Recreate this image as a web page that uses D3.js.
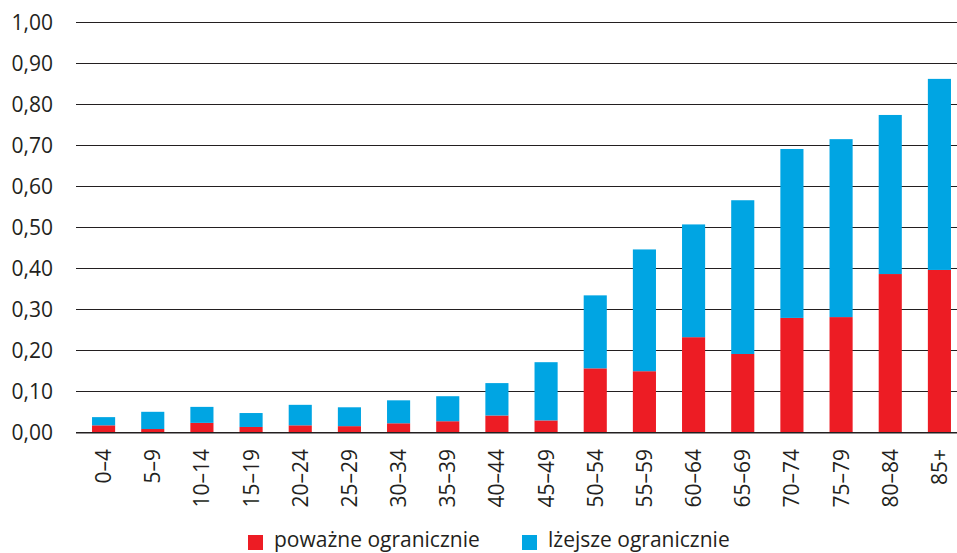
<!DOCTYPE html>
<html>
<head>
<meta charset="utf-8">
<script src="https://cdn.jsdelivr.net/npm/d3@7"></script>
<style>
  html, body { margin: 0; padding: 0; background: #fff; }
  svg { display: block; font-family: "Open Sans", "Noto Sans", sans-serif; }
</style>
</head>
<body>
<svg id="chart" width="957" height="553"></svg>
<script>
// age groups
const categories = ["0–4", "5–9", "10–14", "15–19", "20–24", "25–29", "30–34", "35–39", "40–44",
    "45–49", "50–54", "55–59", "60–64", "65–69", "70–74", "75–79", "80–84", "85+"];

// poważne ograniczenie (red, bottom)
const severe = [0.017, 0.008, 0.023, 0.013, 0.017, 0.015, 0.022, 0.027, 0.041,
    0.029, 0.156, 0.149, 0.232, 0.191, 0.279, 0.281, 0.386, 0.396];

// lżejsze ograniczenie (blue, stacked on top)
const light = [0.020, 0.042, 0.039, 0.034, 0.050, 0.046, 0.056, 0.061, 0.079,
    0.142, 0.178, 0.297, 0.275, 0.375, 0.412, 0.434, 0.388, 0.466];

const yTicks = [0, 0.1, 0.2, 0.3, 0.4, 0.5, 0.6, 0.7, 0.8, 0.9, 1.0];

const seriesNames = ["poważne ogranicznie", "lżejsze ogranicznie"];
const colors = ["#ed1c24", "#00a5e3"];

const svg = d3.select("#chart");

const plotLeft = 76, plotRight = 957;
const fontSize = 21;
const y = d3.scaleLinear().domain([0, 1]).range([432.3, 22.3]);
const x = d3.scaleBand().domain(categories).range([79, 964]).paddingInner(0.53).paddingOuter(0.265);

const fmt = v => d3.format(".2f")(v).replace(".", ",");

// gridlines
svg.append("g")
    .selectAll("line")
    .data(yTicks.slice(1))
    .join("line")
        .attr("x1", plotLeft)
        .attr("x2", plotRight)
        .attr("y1", d => Math.round(y(d)) + 0.5)
        .attr("y2", d => Math.round(y(d)) + 0.5)
        .attr("stroke", "#231f20")
        .attr("stroke-width", 1.2);

// y labels
svg.append("g")
    .selectAll("text")
    .data(yTicks)
    .join("text")
        .attr("x", 53)
        .attr("y", d => y(d))
        .attr("dy", "0.36em")
        .attr("text-anchor", "end")
        .attr("font-size", fontSize)
        .attr("fill", "#231f20")
        .text(fmt);

// stacked bars
const rows = categories.map((c, i) => ({cat: c, severe: severe[i], light: light[i]}));
const stack = d3.stack().keys(["severe", "light"])(rows);

svg.append("g")
    .selectAll("g")
    .data(stack)
    .join("g")
        .attr("fill", (d, i) => colors[i])
    .selectAll("rect")
    .data(d => d)
    .join("rect")
        .attr("x", d => x(d.data.cat))
        .attr("width", x.bandwidth())
        .attr("y", d => y(d[1]))
        .attr("height", d => y(d[0]) - y(d[1]));

// baseline
svg.append("line")
    .attr("x1", plotLeft)
    .attr("x2", plotRight)
    .attr("y1", y(0) + 0.5)
    .attr("y2", y(0) + 0.5)
    .attr("stroke", "#231f20")
    .attr("stroke-width", 1.5);

// x labels, rotated
svg.append("g")
    .selectAll("text")
    .data(categories)
    .join("text")
        .attr("transform", d => `translate(${x(d) + x.bandwidth() / 2},449) rotate(-90)`)
        .attr("dy", "0.36em")
        .attr("text-anchor", "end")
        .attr("font-size", fontSize)
        .attr("fill", "#231f20")
        .text(d => d);

// legend
const legendX = [248, 522];
const legend = svg.append("g")
    .selectAll("g")
    .data(seriesNames)
    .join("g")
        .attr("transform", (d, i) => `translate(${legendX[i]},535)`);

legend.append("rect")
    .attr("width", 15)
    .attr("height", 15)
    .attr("fill", (d, i) => colors[i]);

legend.append("text")
    .attr("x", 26)
    .attr("y", 12)
    .attr("font-size", fontSize)
    .attr("fill", "#231f20")
    .text(d => d);
</script>
</body>
</html>
